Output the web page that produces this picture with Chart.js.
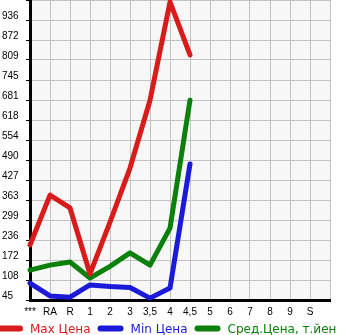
<!DOCTYPE html>
<html>
<head>
<meta charset="utf-8">
<script src="https://cdn.jsdelivr.net/npm/chart.js@4.4.0/dist/chart.umd.min.js"></script>
<style>
    body { margin: 0; background: #fff; }
    #wrap { width: 345px; height: 335px; }
</style>
</head>
<body>
<div id="wrap"><canvas id="priceChart" width="345" height="335"></canvas></div>
<script>
// categories on the x axis (last slot is an empty column)
const categories = ['***', 'RA', 'R', '1', '2', '3', '3,5', '4', '4,5', '5', '6', '7', '8', '9', 'S', ''];

// values
const maxPrice = [220, 379, 338, 128, 293, 465, 681, 994, 825];
const minPrice = [99, 58, 54, 93, 88, 85, 51, 83, 478];
const avgPrice = [140, 156, 166, 115, 152, 195, 156, 274, 681];

// y axis
const yMin = 45;
const yMax = 1000;
const yTickLabels = ['45', '108', '172', '236', '299', '363', '427', '490', '554', '618', '681', '745', '809', '872', '936', ''];

const seriesNames = ['Max Цена', 'Min Цена', 'Сред.Цена, т.йен'];
const seriesColors = ['#d81c1c', '#1a1ad8', '#0b800b'];

const plotBackground = {
    id: 'plotBackground',
    beforeDraw(chart) {
        const { ctx, chartArea } = chart;
        ctx.save();
        ctx.fillStyle = '#f7f7f7';
        ctx.fillRect(chartArea.left, chartArea.top, chartArea.width, chartArea.height);
        ctx.restore();
    }
};

// legend drawn in one row under the axis, like the original
const bottomLegend = {
    id: 'bottomLegend',
    afterDraw(chart) {
        const ctx = chart.ctx;
        const y = 328.5;
        let x = 0;
        ctx.save();
        ctx.font = '12px "DejaVu Sans"';
        ctx.textBaseline = 'middle';
        chart.data.datasets.forEach(ds => {
            ctx.strokeStyle = ds.borderColor;
            ctx.lineWidth = 6;
            ctx.lineCap = 'round';
            ctx.beginPath();
            ctx.moveTo(x, y);
            ctx.lineTo(x + 20, y);
            ctx.stroke();
            ctx.fillStyle = ds.borderColor;
            ctx.fillText(ds.label, x + 30, y + 1);
            x += 30 + ctx.measureText(ds.label).width + 10;
        });
        ctx.restore();
    }
};

function makeDataset(label, data, color) {
    return {
        label: label,
        data: data,
        borderColor: color,
        backgroundColor: color,
        borderWidth: 5,
        pointRadius: 0,
        tension: 0,
        borderCapStyle: 'round',
        borderJoinStyle: 'round',
        clip: false
    };
}

new Chart(document.getElementById('priceChart').getContext('2d'), {
    type: 'line',
    data: {
        labels: categories,
        datasets: [
            makeDataset(seriesNames[0], maxPrice, seriesColors[0]),
            makeDataset(seriesNames[1], minPrice, seriesColors[1]),
            makeDataset(seriesNames[2], avgPrice, seriesColors[2])
        ]
    },
    options: {
        responsive: false,
        animation: false,
        layout: { padding: { left: 2, right: 15, top: 0, bottom: 0 } },
        plugins: {
            legend: { display: false },
            tooltip: { enabled: false }
        },
        scales: {
            x: {
                type: 'category',
                offset: false,
                grid: { color: '#c3c3c3', lineWidth: 1, drawTicks: false },
                border: { color: '#000', width: 3 },
                ticks: {
                    autoSkip: false,
                    maxRotation: 0,
                    padding: 6,
                    color: '#000',
                    font: { family: 'Liberation Sans', size: 10 }
                },
                afterFit: s => { s.height = 35; s.paddingLeft = 0; s.paddingRight = 0; }
            },
            y: {
                min: yMin,
                max: yMax,
                afterBuildTicks: s => {
                    const step = (yMax - yMin) / (yTickLabels.length - 1);
                    s.ticks = yTickLabels.map((t, i) => ({ value: yMin + i * step }));
                },
                grid: { color: '#c3c3c3', lineWidth: 1, tickColor: '#000', tickLength: 4 },
                border: { color: '#000', width: 3 },
                ticks: {
                    crossAlign: 'far',
                    labelOffset: -4,
                    color: '#000',
                    font: { family: 'Liberation Sans', size: 10 },
                    callback: (v, i) => yTickLabels[i]
                },
                afterFit: s => { s.width = 28; s.paddingTop = 0; s.paddingBottom = 0; }
            }
        }
    },
    plugins: [plotBackground, bottomLegend]
});
</script>
</body>
</html>
